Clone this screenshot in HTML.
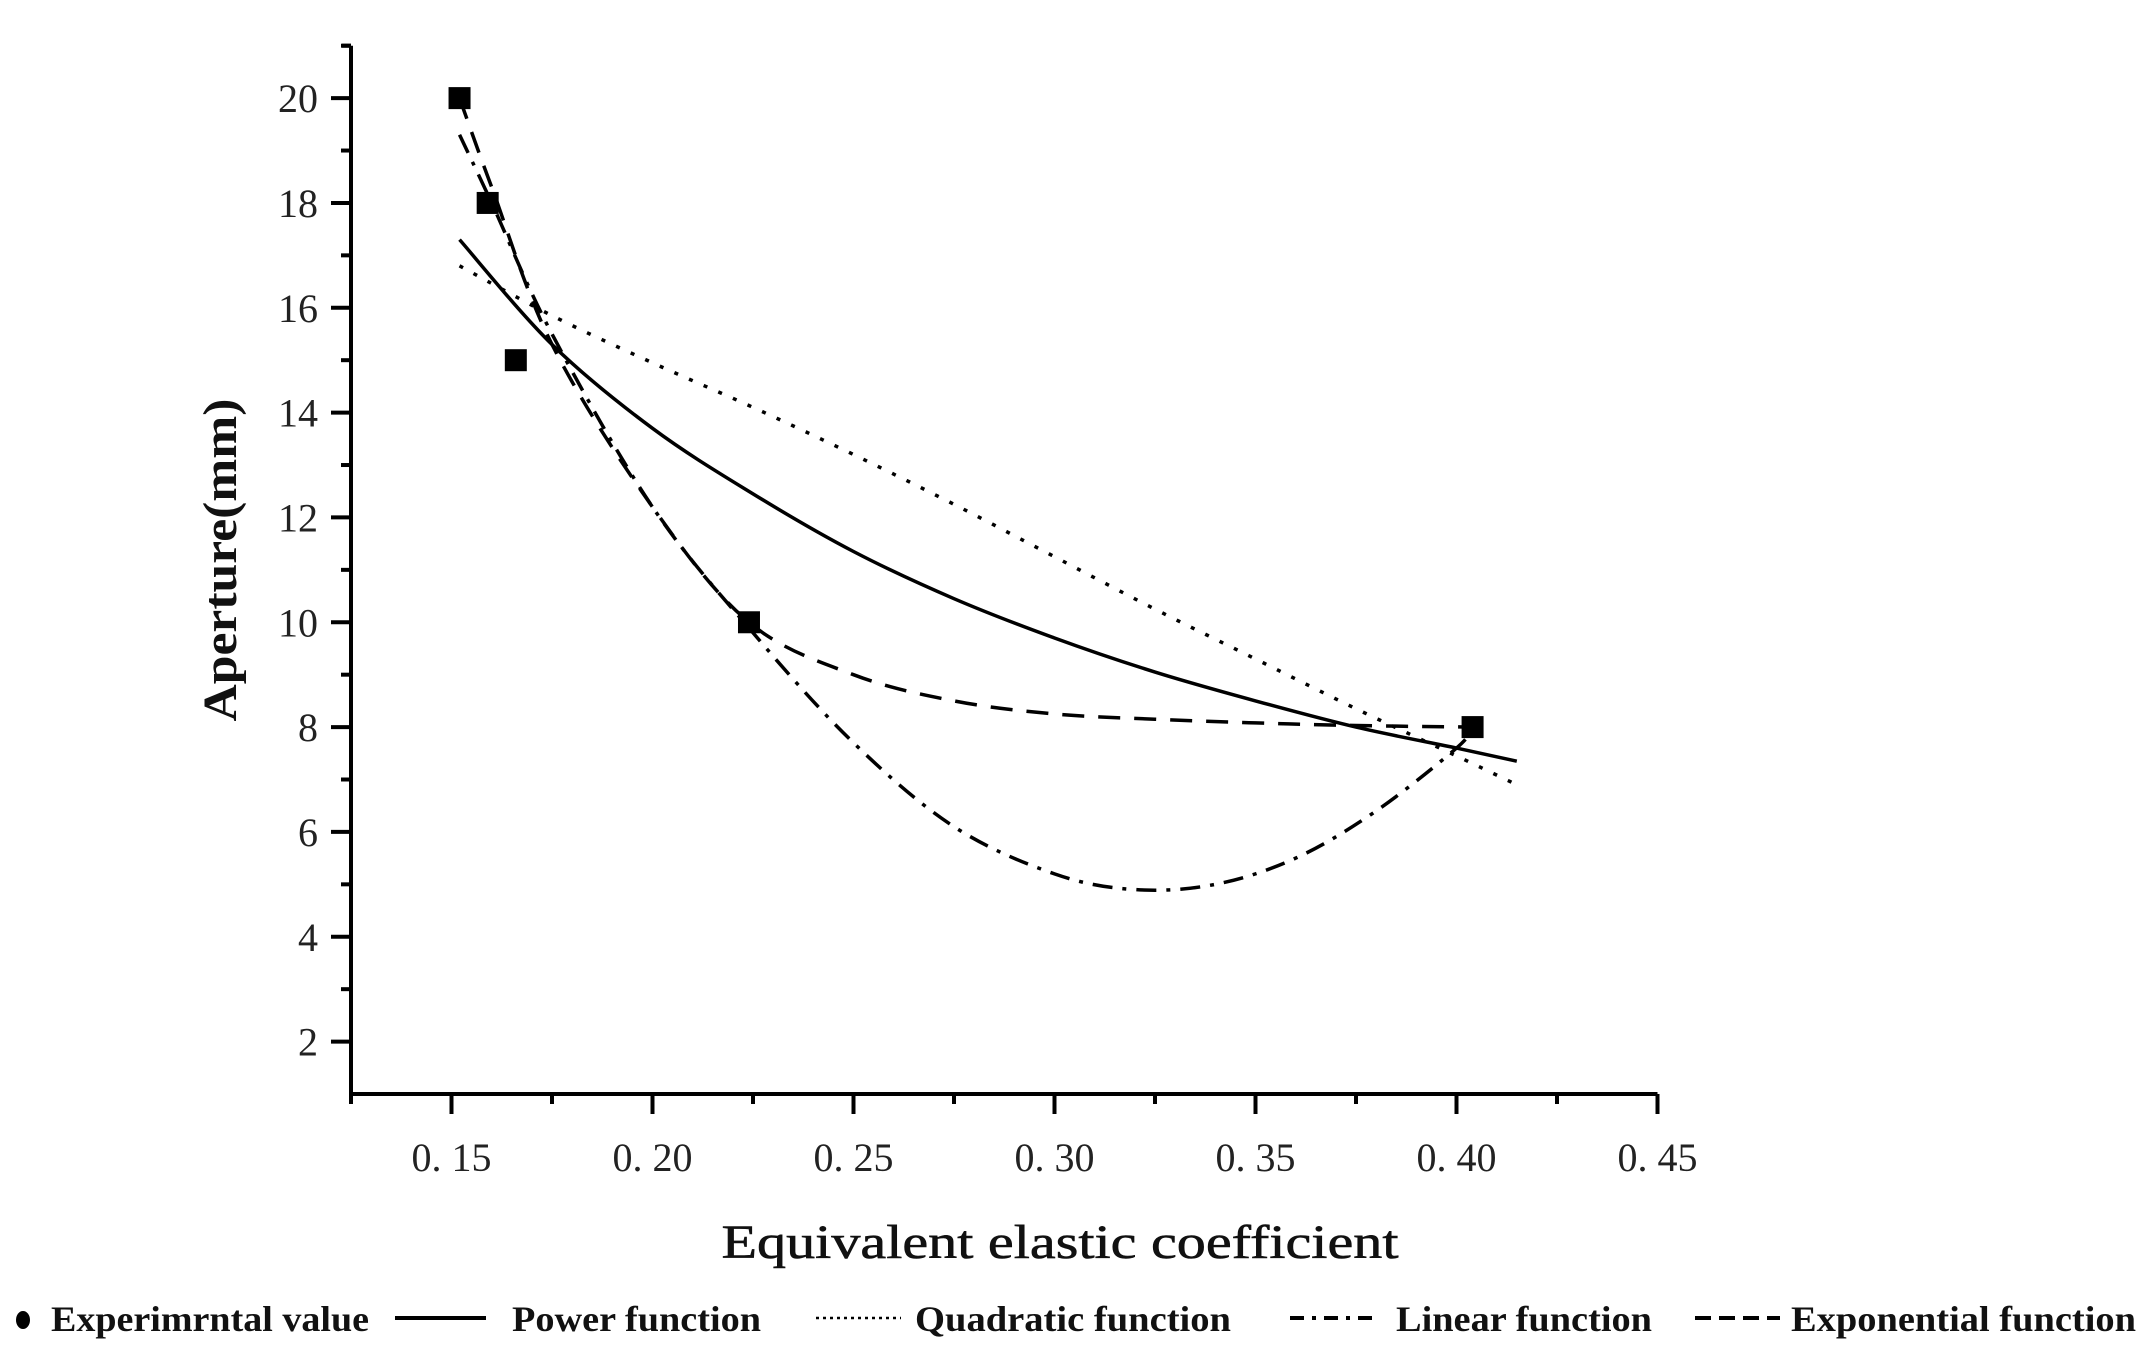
<!DOCTYPE html>
<html><head><meta charset="utf-8">
<style>
html,body{margin:0;padding:0;background:#fff;}
svg{display:block;font-family:"Liberation Serif",serif;}
</style></head>
<body>
<svg id="chart" width="2146" height="1364" viewBox="0 0 2146 1364" xmlns="http://www.w3.org/2000/svg">
<g id="axes"></g>
<g id="series"></g>
<g id="points"></g>
<text x="1060" y="1258" font-size="48" text-anchor="middle" fill="#111" stroke="#111" stroke-width="0.6" textLength="677" lengthAdjust="spacingAndGlyphs">Equivalent elastic coefficient</text>
<text transform="translate(236,560) rotate(-90)" font-size="48" font-weight="bold" text-anchor="middle" fill="#111" textLength="323" lengthAdjust="spacingAndGlyphs">Aperture(mm)</text>
<g id="legend"></g>
</svg>
<script>
const xTicks = [0.15, 0.20, 0.25, 0.30, 0.35, 0.40, 0.45];
const xTickLabels = ["0. 15","0. 20","0. 25","0. 30","0. 35","0. 40","0. 45"];
const yTicks = [2,4,6,8,10,12,14,16,18,20];
const expX = [0.152, 0.159, 0.166, 0.224, 0.404];
const expY = [20, 18, 15, 10, 8];
const powerX = [0.152,0.175,0.20,0.225,0.25,0.275,0.30,0.325,0.35,0.375,0.40,0.415];
const powerY = [17.3,15.3,13.7,12.45,11.35,10.45,9.7,9.05,8.5,8.0,7.6,7.35];
const quadX = [0.152,0.175,0.20,0.225,0.25,0.275,0.30,0.325,0.35,0.375,0.40,0.415];
const quadY = [16.8,15.85,14.95,14.1,13.2,12.25,11.25,10.25,9.3,8.35,7.45,6.9];
const linX = [0.152,0.16,0.175,0.20,0.225,0.25,0.275,0.30,0.32,0.34,0.36,0.38,0.40,0.404];
const linY = [19.3,18.0,15.5,12.2,9.8,7.7,6.1,5.2,4.9,5.0,5.5,6.4,7.6,8.0];
const expoX = [0.152,0.16,0.175,0.20,0.224,0.25,0.275,0.30,0.325,0.35,0.375,0.404];
const expoY = [20,18.3,15.3,12.2,10,9.0,8.5,8.25,8.15,8.08,8.03,8.0];

const NS="http://www.w3.org/2000/svg";
const X0=351, X1=1657.5, Y0=1094, Y1=45.7;
const xMin=0.125, xMax=0.45, yMin=1, yMax=21;
function sx(v){return X0+(v-xMin)/(xMax-xMin)*(X1-X0);}
function sy(v){return Y0-(v-yMin)/(yMax-yMin)*(Y0-Y1);}
function mk(tag,attrs,parent){const e=document.createElementNS(NS,tag);for(const k in attrs)e.setAttribute(k,attrs[k]);parent.appendChild(e);return e;}
const axes=document.getElementById('axes');
let e;
e=mk('path',{d:`M${X0} ${Y1} V${Y0} H${X1}`,stroke:'#000','stroke-width':4,fill:'none'},axes);


e=mk('line',{x1:X0-9,y1:Y1,x2:X0,y2:Y1,stroke:'#000','stroke-width':4},axes);


for(let i=0;i<xTicks.length;i++){
  const x=sx(xTicks[i]);
  e=mk('line',{x1:x,y1:Y0,x2:x,y2:Y0+20,stroke:'#000','stroke-width':4},axes);
  
  
  e=mk('text',{x:x,y:Y0+77,'font-size':40,'text-anchor':'middle',fill:'#222'},axes);
  e.textContent=xTickLabels[i];
  
  
}
for(let v=0.125; v<0.45; v+=0.05){
  const x=sx(v);
  e=mk('line',{x1:x,y1:Y0,x2:x,y2:Y0+10,stroke:'#000','stroke-width':4},axes);
  
  
}
for(let i=0;i<yTicks.length;i++){
  const y=sy(yTicks[i]);
  e=mk('line',{x1:X0-20,y1:y,x2:X0,y2:y,stroke:'#000','stroke-width':4},axes);
  
  
  e=mk('text',{x:X0-33,y:y+14,'font-size':40,'text-anchor':'end',fill:'#222'},axes);
  e.textContent=String(yTicks[i]);
  
  
  const ym=sy(yTicks[i]+1);
  e=mk('line',{x1:X0-10,y1:ym,x2:X0,y2:ym,stroke:'#000','stroke-width':4},axes);
  
  
}
const series=document.getElementById('series');
function line(xs,ys,dash,name){
  const p=xs.map((v,i)=>[sx(v),sy(ys[i])]);
  let d='M'+p[0][0]+' '+p[0][1];
  for(let i=0;i<p.length-1;i++){
    const p0=p[Math.max(i-1,0)],p1=p[i],p2=p[i+1],p3=p[Math.min(i+2,p.length-1)];
    const c1=[p1[0]+(p2[0]-p0[0])/6,p1[1]+(p2[1]-p0[1])/6];
    const c2=[p2[0]-(p3[0]-p1[0])/6,p2[1]-(p3[1]-p1[1])/6];
    d+=` C${c1[0]} ${c1[1]} ${c2[0]} ${c2[1]} ${p2[0]} ${p2[1]}`;
  }
  const el=mk('path',{d:d,stroke:'#000','stroke-width':3.5,fill:'none','stroke-dasharray':dash},series);
  
  
}
line(powerX,powerY,'none','power-function-curve');
line(quadX,quadY,'4 12','quadratic-function-curve');
line(linX,linY,'20 10 4 10','linear-function-curve');
line(expoX,expoY,'22 14','exponential-function-curve');
const pts=document.getElementById('points');
for(let i=0;i<expX.length;i++){
  e=mk('rect',{x:sx(expX[i])-11,y:sy(expY[i])-11,width:22,height:22,fill:'#000'},pts);
  
  
}
const lg=document.getElementById('legend');
const LY=1320;
e=mk('ellipse',{cx:23,cy:LY,rx:7,ry:9,fill:'#000'},lg);


const items=[
 {x1:null,x2:null,dash:null,tx:51,tw:318,t:"Experimrntal value",n:'legend-experimental'},
 {x1:395,x2:486,dash:'none',tx:512,tw:249,t:"Power function",n:'legend-power'},
 {x1:816,x2:901,dash:'3 4',tx:915,tw:316,t:"Quadratic function",n:'legend-quadratic'},
 {x1:1290,x2:1380,dash:'14 8 4 8',tx:1396,tw:256,t:"Linear function",n:'legend-linear'},
 {x1:1695,x2:1780,dash:'16 8',tx:1791,tw:345,t:"Exponential function",n:'legend-exponential'}
];
for(const it of items){
  if(it.x1!==null){
    e=mk('line',{x1:it.x1,y1:LY-2,x2:it.x2,y2:LY-2,stroke:'#000','stroke-width':it.dash==='3 4'?2.5:4,'stroke-dasharray':it.dash},lg);
    
    
  }
  e=mk('text',{x:it.tx,y:LY+11,'font-size':36,'font-weight':'bold',fill:'#111',textLength:it.tw,lengthAdjust:'spacingAndGlyphs'},lg);
  e.textContent=it.t;
  
  
}
</script>
</body></html>
